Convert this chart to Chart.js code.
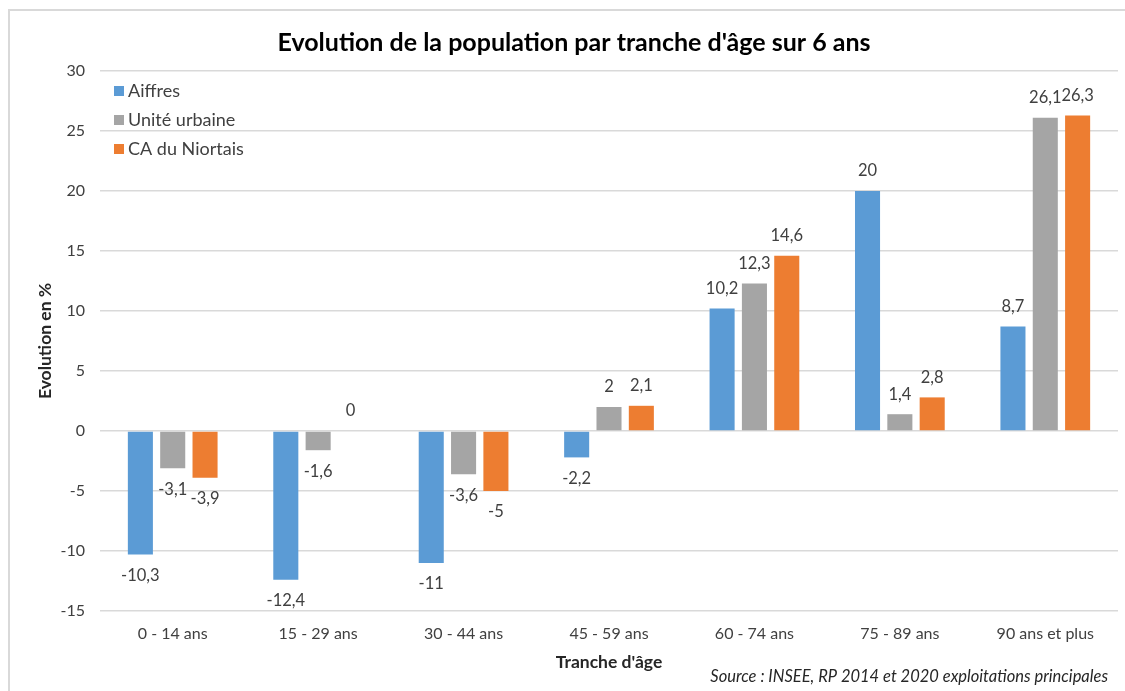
<!DOCTYPE html>
<html>
<head>
<meta charset="utf-8">
<script src="https://cdn.jsdelivr.net/npm/chart.js@4/dist/chart.umd.min.js"></script>
<style>
  html, body { margin: 0; padding: 0; background: #ffffff; }
  #wrap { width: 1125px; height: 691px; position: relative; }
</style>
</head>
<body>
<div id="wrap"><canvas id="c" width="1125" height="691"></canvas></div>
<script>
const categories = ['0 - 14 ans', '15 - 29 ans', '30 - 44 ans', '45 - 59 ans', '60 - 74 ans', '75 - 89 ans', '90 ans et plus'];
const aiffres = [-10.3, -12.4, -11, -2.2, 10.2, 20, 8.7];
const uniteUrbaine = [-3.1, -1.6, -3.6, 2, 12.3, 1.4, 26.1];
const caNiortais = [-3.9, 0, -5, 2.1, 14.6, 2.8, 26.3];
const seriesNames = ['Aiffres', 'Unité urbaine', 'CA du Niortais'];
const seriesColors = ['#5B9BD5', '#A5A5A5', '#ED7D31'];
const chartTitle = "Evolution de la population par tranche d'âge sur 6 ans";
const yTitle = 'Evolution en %';
const xTitle = "Tranche d'âge";
const sourceText = 'Source : INSEE, RP 2014 et 2020 exploitations principales';

const FONT = 'Lato, "Open Sans", sans-serif';

const framePlugin = {
  id: 'frame',
  beforeDraw(chart) {
    const ctx = chart.ctx;
    ctx.save();
    ctx.fillStyle = '#ffffff';
    ctx.fillRect(0, 0, chart.width, chart.height);
    ctx.strokeStyle = '#d9d9d9';
    ctx.lineWidth = 2;
    ctx.strokeRect(9, 10, chart.width + 20, chart.height + 20);
    ctx.restore();
  }
};

const valueLabels = {
  id: 'valueLabels',
  afterDatasetsDraw(chart) {
    const ctx = chart.ctx;
    ctx.save();
    ctx.font = '16.5px ' + FONT;
    ctx.fillStyle = '#404040';
    ctx.textAlign = 'center';
    ctx.textBaseline = 'middle';
    chart.data.datasets.forEach((ds, i) => {
      const meta = chart.getDatasetMeta(i);
      meta.data.forEach((el, j) => {
        const v = ds.data[j];
        const txt = String(v).replace('.', ',');
        const y = v >= 0 ? el.y - 20 : el.y + 21;
        ctx.fillText(txt, el.x, y);
      });
    });
    ctx.restore();
  }
};

const innerLegend = {
  id: 'innerLegend',
  afterDraw(chart) {
    const ctx = chart.ctx;
    const area = chart.chartArea;
    ctx.save();
    ctx.font = '18px ' + FONT;
    ctx.textBaseline = 'middle';
    ctx.textAlign = 'left';
    chart.data.datasets.forEach((ds, i) => {
      const y = area.top + 20 + i * 29;
      ctx.fillStyle = ds.backgroundColor;
      ctx.fillRect(area.left + 14, y - 5, 10, 10);
      ctx.fillStyle = '#404040';
      ctx.fillText(ds.label, area.left + 28, y);
    });
    ctx.restore();
  }
};

const sourcePlugin = {
  id: 'sourceNote',
  afterDraw(chart) {
    const ctx = chart.ctx;
    ctx.save();
    ctx.font = 'italic 16.5px ' + FONT;
    ctx.fillStyle = '#262626';
    ctx.textAlign = 'right';
    ctx.textBaseline = 'middle';
    ctx.fillText(sourceText, 1108, 677);
    ctx.restore();
  }
};

new Chart(document.getElementById('c'), {
  type: 'bar',
  data: {
    labels: categories,
    datasets: [
      { label: seriesNames[0], data: aiffres, backgroundColor: seriesColors[0] },
      { label: seriesNames[1], data: uniteUrbaine, backgroundColor: seriesColors[1] },
      { label: seriesNames[2], data: caNiortais, backgroundColor: seriesColors[2] }
    ]
  },
  options: {
    responsive: false,
    animation: false,
    devicePixelRatio: 1,
    layout: { padding: { left: 30, right: 7, top: 0, bottom: 0 } },
    datasets: {
      bar: { categoryPercentage: 0.667, barPercentage: 0.775 }
    },
    plugins: {
      legend: { display: false },
      tooltip: { enabled: false },
      title: {
        display: true,
        text: chartTitle,
        color: '#000000',
        font: { family: FONT, size: 25, weight: 'bold', lineHeight: 1.2 },
        padding: { top: 28, bottom: 13 }
      }
    },
    scales: {
      x: {
        grid: { display: false, drawTicks: false },
        border: { display: false },
        ticks: { color: '#404040', font: { family: FONT, size: 16 }, padding: 13, maxRotation: 0, autoSkip: false },
        title: {
          display: true,
          text: xTitle,
          color: '#262626',
          font: { family: FONT, size: 17.5, weight: 'bold', lineHeight: 1.2 },
          padding: { top: 0, bottom: 18.5 }
        },
        afterFit(scale) { scale.height = 80; }
      },
      y: {
        min: -15,
        max: 30,
        ticks: { stepSize: 5, color: '#404040', font: { family: FONT, size: 16 }, padding: 15 },
        grid: { color: '#d9d9d9', lineWidth: 1.5, drawTicks: false },
        border: { display: false },
        title: {
          display: true,
          text: yTitle,
          color: '#262626',
          font: { family: FONT, size: 17.5, weight: 'bold', lineHeight: 1.2 },
          padding: { top: 4.5, bottom: 0 }
        },
        afterFit(scale) { scale.width = 70; }
      }
    }
  },
  plugins: [framePlugin, valueLabels, innerLegend, sourcePlugin]
});
</script>
</body>
</html>
